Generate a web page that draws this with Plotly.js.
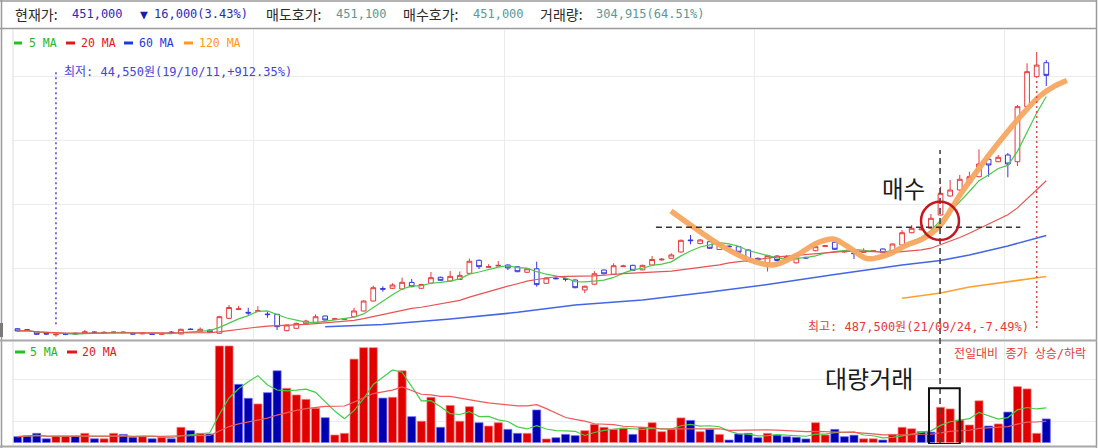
<!DOCTYPE html>
<html><head><meta charset="utf-8">
<script src="https://cdn.plot.ly/plotly-3.0.1.min.js"></script>
<style>html,body{margin:0;padding:0;background:#fff;overflow:hidden}#chart{width:1098px;height:448px}</style>
</head><body><div id="chart"></div>
<script>
// ---- weekly OHLC (won); index 4 = 19/10/11 (최저), index 106 = 21/09/24 (최고)
const openP = [
57000,55500,52400,49900,47500,49000,49900,49900,52000,51500,
50800,51800,50000,49000,49500,48300,51800,48800,56500,52400,
55000,49900,73200,87000,82500,84000,79800,79400,54000,57700,
64800,67000,76800,71500,71600,75700,84600,100100,119500,119900,
118800,129000,119900,127800,137000,131200,133500,143200,163400,152500,
154500,156100,153300,144800,150200,127600,135700,134800,132800,117200,
126300,148300,141800,153500,155600,148600,156100,164000,166500,176300,
195000,189400,192300,180200,185500,184600,179400,166500,160000,170000,
165300,159500,168000,178300,185000,191400,176300,174800,175800,177400,
181000,178300,187200,206300,211000,213200,233900,263400,272700,284100,
293400,320500,316700,327200,316700,402300,448900,470700];
const highP = [
58000,56500,53500,51000,50000,50500,51000,55000,53000,52500,
53000,52500,51000,51000,50000,50000,53500,57000,57500,59000,
56000,77000,94000,92500,89500,92000,83500,80000,63500,66500,
71000,79400,77500,74000,73500,89700,101000,123900,123000,127700,
136400,134300,127000,145200,138000,146800,146000,166000,164500,157300,
162300,157000,154000,151000,161300,137000,137000,135500,133500,124000,
146500,149000,158700,156500,156500,156500,170000,167000,174300,195500,
202800,196500,193500,190000,186500,185500,180500,167500,172000,171000,
171500,168000,169000,186000,187500,192500,178500,176000,182000,179500,
182000,189500,210500,218300,215000,235400,277900,288300,296100,301200,
336000,322500,327200,330300,404900,469700,487500,474900];
const lowP = [
52500,53500,47500,47800,44550,47000,48000,49000,50000,50000,
50000,50200,48000,48500,47500,47800,50500,48500,55000,52000,
51000,49500,72000,86000,78500,83000,74000,55000,53000,57000,
64000,66500,70000,70500,71000,75000,84000,99500,114600,119000,
117200,121500,119000,127000,131500,130500,133000,142500,149900,152000,
154000,148300,145000,144000,122400,127000,134000,130500,120000,112500,
125500,141500,141000,153000,147000,148000,155500,163000,166000,175500,
188300,188500,181000,179500,183500,173200,161000,163000,146000,162000,
164000,158500,165500,177500,184000,179500,175500,165400,175000,176500,
174500,177500,186500,205500,209500,212500,233000,262500,271500,283000,
292500,293400,316000,292500,310000,401000,447000,434500];
const closeP = [
53500,54500,48300,48800,48400,48000,49000,52400,51000,50800,
51800,51000,48800,50000,48300,49300,51000,56100,55800,56100,
51500,75700,90000,88000,81500,85000,79000,60200,62800,65400,
69000,75700,70600,72500,72500,84600,100100,120800,118500,125000,
129200,122400,125800,136400,132300,138500,140000,161900,153500,153500,
155500,151500,145700,150200,125600,135900,134800,134000,120800,123100,
142500,142400,155000,154500,147800,155600,164700,165000,171700,194500,
194000,195000,182100,188800,184500,176000,161800,163900,170800,163100,
169300,167000,167000,184600,186000,180500,177300,173800,176800,178400,
175200,188800,206300,213200,212000,228700,267600,272700,289400,293400,
313200,311600,323600,313200,402300,456700,467000,451000];
// weekly volume (million shares)
const volume = [
0.28,0.31,0.44,0.18,0.31,0.31,0.31,0.44,0.18,0.18,
0.44,0.39,0.25,0.28,0.18,0.25,0.18,0.73,0.57,0.44,
0.41,4.63,4.63,2.79,2.12,1.85,2.39,3.44,2.60,2.28,
2.07,1.64,1.19,0.36,0.44,4.00,4.55,4.55,2.13,2.17,
3.44,1.24,1.02,2.17,0.73,1.78,1.02,1.72,0.95,0.79,
0.95,0.63,0.44,0.44,1.56,0.17,0.23,0.39,0.33,0.57,
0.87,0.73,0.63,0.68,0.39,0.73,0.95,0.52,0.63,1.18,
1.06,0.52,0.63,0.39,0.12,0.41,0.44,0.23,0.44,0.36,
0.28,0.25,0.17,0.95,0.36,0.63,0.28,0.35,0.18,0.18,
0.12,0.39,0.73,0.66,0.52,0.50,1.69,1.61,1.08,0.84,
2.00,0.79,0.89,1.46,2.68,2.57,0.44,1.13];
// 전일대비 종가 상승(1) / 하락(0)
const volUp = [
0,0,0,0,1,1,0,1,0,1,
1,0,0,1,0,1,0,1,0,1,
0,1,1,0,0,1,0,0,1,1,
1,1,0,1,1,1,1,1,0,1,
1,0,1,1,0,1,1,1,0,1,
1,0,0,1,0,1,0,0,0,1,
1,1,1,1,0,1,1,1,1,1,
0,1,0,1,0,0,0,0,1,0,
0,0,0,1,1,0,0,0,1,1,
0,1,1,1,0,0,1,1,1,1,
1,0,1,0,1,1,1,0];
// long moving averages (their history starts before the visible window)
const ma60Idx = [32,38,45,52,58,65,72,78,85,92,96,99,103,107];
const ma60Val = [60200,63600,72100,82500,93900,101700,114100,125800,141300,156100,163100,171700,185700,202000];
const ma120Idx = [92,96,99,103,107];
const ma120Val = [104300,112600,121900,130400,138200];
// hand-drawn orange pattern curve
const trendIdx = [67.97,70.25,73.37,76.18,78.57,81.07,83.15,84.81,86.38,88.35,90.43,92.51,94.18,95.94,98.02,100.10,102.18,104.26,106.34,107.90,109.15];
const trendVal = [240100,215700,184600,163900,156100,171700,190300,196500,184600,166200,171700,187200,197100,217500,265000,308500,348900,386200,418900,434500,443000];
// grid / annotations
const yGrid = [150000,250000,350000,450000];
const volGrid = [1,3];
const xGrid = [24.5,50.6,76.7,102.7];
const lowIdx = 4, highIdx = 106, buyIdx = 95.95;
const resistance = {x0: 66.4, x1: 104.3, y: 214700};
const buyCircle = {x0: 93.97, x1: 97.92, y0: 194980, y1: 254530};
const bigVolBox = {x0: 94.8, x1: 98.0, y0: -0.07, y1: 2.6};

const W = 1098, H = 448;
const px = v => v / W, py = v => 1 - v / H;
const xIdx = closeP.map((_, i) => i);
function sma(arr, n) {
  return arr.map((_, i) => { const s = Math.max(0, i - n + 1); let t = 0; for (let k = s; k <= i; k++) t += arr[k]; return t / (i - s + 1); });
}
const mono = 'DejaVu Sans Mono, Noto Sans CJK KR, monospace';
const kr = 'Noto Sans CJK KR, sans-serif';
const xr = [-0.468, 112.17];

const traces = [
  {type:'candlestick', x:xIdx, open:openP, high:highP, low:lowP, close:closeP, xaxis:'x', yaxis:'y',
   increasing:{line:{color:'#e63a3a', width:1}, fillcolor:'#ffffff'},
   decreasing:{line:{color:'#3636e0', width:1}, fillcolor:'#ffffff'}, whiskerwidth:0, hoverinfo:'skip'},
  {type:'scatter', mode:'lines', x:xIdx, y:sma(closeP,5), line:{color:'#4cc84c', width:1.2}, xaxis:'x', yaxis:'y'},
  {type:'scatter', mode:'lines', x:xIdx, y:sma(closeP,20), line:{color:'#e85252', width:1.2}, xaxis:'x', yaxis:'y'},
  {type:'scatter', mode:'lines', x:ma60Idx, y:ma60Val, line:{color:'#4466e6', width:1.6}, xaxis:'x', yaxis:'y'},
  {type:'scatter', mode:'lines', x:ma120Idx, y:ma120Val, line:{color:'#ffa030', width:1.6}, xaxis:'x', yaxis:'y'},
  {type:'scatter', mode:'lines', x:trendIdx, y:trendVal, line:{color:'rgba(245,168,96,0.95)', width:5.5, shape:'spline', smoothing:1}, xaxis:'x', yaxis:'y'},
  {type:'bar', x:xIdx, y:volume, xaxis:'x2', yaxis:'y2', width:0.84,
   marker:{color:volUp.map(u => u ? '#e00000' : '#0000b0'), line:{color:volUp.map(u => u ? '#ff8080' : '#7070ff'), width:0.7}}},
  {type:'scatter', mode:'lines', x:xIdx, y:sma(volume,5), line:{color:'#46cc46', width:1.2}, xaxis:'x2', yaxis:'y2'},
  {type:'scatter', mode:'lines', x:xIdx, y:sma(volume,20), line:{color:'#ee5a5a', width:1.2}, xaxis:'x2', yaxis:'y2'}
];

function pline(x0,y0,x1,y1,color,width,dash){return {type:'line',xref:'paper',yref:'paper',x0:px(x0),y0:py(y0),x1:px(x1),y1:py(y1),line:{color,width,dash:dash||'solid'}};}
function prect(x0,y0,x1,y1,fill){return {type:'rect',xref:'paper',yref:'paper',x0:px(x0),y0:py(y0),x1:px(x1),y1:py(y1),fillcolor:fill,line:{width:0}};}

const shapes = [
  pline(0,1,1097,1,'#9a9a9a',1.5),
  pline(0,28.5,1097,28.5,'#9a9a9a',1.5),
  pline(1.5,0,1.5,448,'#9a9a9a',1.5),
  pline(1096.5,0,1096.5,448,'#9a9a9a',1.5),
  pline(13,29,13,445,'#dcdcdc',1),
  pline(0,340.5,1097,340.5,'#a8a8a8',2),
  pline(0,446.5,1097,446.5,'#a8a8a8',2),
  prect(0,323,3,337,'#7a7a7a'),
  // legends
  prect(14,41.5,22,44.5,'#22c022'), prect(66,41.5,75,44.5,'#e01818'),
  prect(124,41.5,133,44.5,'#1c3ad8'), prect(184,41.5,193,44.5,'#ff9820'),
  prect(15,350.5,25,353.5,'#22c022'), prect(67,350.5,77,353.5,'#e01818'),
  // markers
  {type:'line', xref:'x', yref:'y', x0:lowIdx, x1:lowIdx, y0:64000, y1:459000, line:{color:'#4848dc', width:1.5, dash:'2px,3px'}},
  {type:'line', xref:'x', yref:'y', x0:highIdx, x1:highIdx, y0:58000, y1:443700, line:{color:'#e44848', width:1.5, dash:'2px,3px'}},
  {type:'line', xref:'x', yref:'y', x0:resistance.x0, x1:resistance.x1, y0:resistance.y, y1:resistance.y, line:{color:'#333', width:1.6, dash:'6px,4px'}},
  {type:'line', xref:'x', yref:'paper', x0:buyIdx, x1:buyIdx, y0:py(444), y1:py(150), line:{color:'#444', width:1.6, dash:'6px,4px'}},
  {type:'circle', xref:'x', yref:'y', x0:buyCircle.x0, x1:buyCircle.x1, y0:buyCircle.y0, y1:buyCircle.y1, line:{color:'#c4161c', width:2.5}},
  {type:'rect', xref:'x2', yref:'y2', x0:bigVolBox.x0, x1:bigVolBox.x1, y0:bigVolBox.y0, y1:bigVolBox.y1, line:{color:'#111', width:2}}
];

function txt(text,x,y,color,size,family,xanchor){return {text,x:px(x),y:py(y),xref:'paper',yref:'paper',xanchor:xanchor||'left',yanchor:'middle',showarrow:false,font:{family,size,color}};}
const annotations = [
  txt('현재가:',13,14.5,'#2a2a2a',14,kr),
  txt('451,000',70,14.5,'#2a2ab8',12,mono),
  txt('▼',138,14.5,'#1a1ab0',13,mono),
  txt('16,000(3.43%)',152,14.5,'#2a2ab8',12,mono),
  txt('매도호가:',264,14.5,'#2a2a2a',14,kr),
  txt('451,100',334,14.5,'#5b9797',12,mono),
  txt('매수호가:',401,14.5,'#2a2a2a',14,kr),
  txt('451,000',471,14.5,'#5b9797',12,mono),
  txt('거래량:',538,14.5,'#2a2a2a',14,kr),
  txt('304,915(64.51%)',594,14.5,'#5b9797',12,mono),
  txt('5 MA',27,43,'#22b822',11.5,mono),
  txt('20 MA',79,43,'#e01818',11.5,mono),
  txt('60 MA',137,43,'#1c3ad8',11.5,mono),
  txt('120 MA',197,43,'#ff9820',11.5,mono),
  txt('5 MA',28,352.3,'#22b822',11.5,mono),
  txt('20 MA',80,352.3,'#e01818',11.5,mono),
  txt('최저: 44,550원(19/10/11,+912.35%)',62,71.5,'#4444d8',12,mono),
  txt('최고: 487,500원(21/09/24,-7.49%)',1031,327,'#e03c3c',12,mono,'right'),
  txt('전일대비 종가 상승/하락',1088,353.5,'#e03c3c',12,mono,'right'),
  txt('매수',903.5,187.5,'#1a1a1a',23.5,kr,'center'),
  txt('대량거래',868.5,377.5,'#1a1a1a',24,kr,'center')
];

const ax = {showticklabels:false, ticks:'', zeroline:false, showline:false, showgrid:true, gridcolor:'#ebebeb', gridwidth:1, fixedrange:true};
const layout = {
  width:W, height:H, margin:{l:0,r:0,t:0,b:0}, paper_bgcolor:'#fff', plot_bgcolor:'#fff',
  showlegend:false, hovermode:false, bargap:0,
  xaxis:Object.assign({}, ax, {domain:[px(13),px(1096)], range:xr, tickmode:'array', tickvals:xGrid, anchor:'y', rangeslider:{visible:false}}),
  yaxis:Object.assign({}, ax, {domain:[py(339),py(30)], range:[41035,521530], tickmode:'array', tickvals:yGrid, anchor:'x'}),
  xaxis2:Object.assign({}, ax, {domain:[px(13),px(1096)], range:xr, tickmode:'array', tickvals:xGrid, anchor:'y2'}),
  yaxis2:Object.assign({}, ax, {domain:[py(444),py(342)], range:[-0.072,4.82], tickmode:'array', tickvals:volGrid, anchor:'x2'}),
  shapes, annotations
};
Plotly.newPlot('chart', traces, layout, {staticPlot:true, displayModeBar:false});
</script></body></html>
